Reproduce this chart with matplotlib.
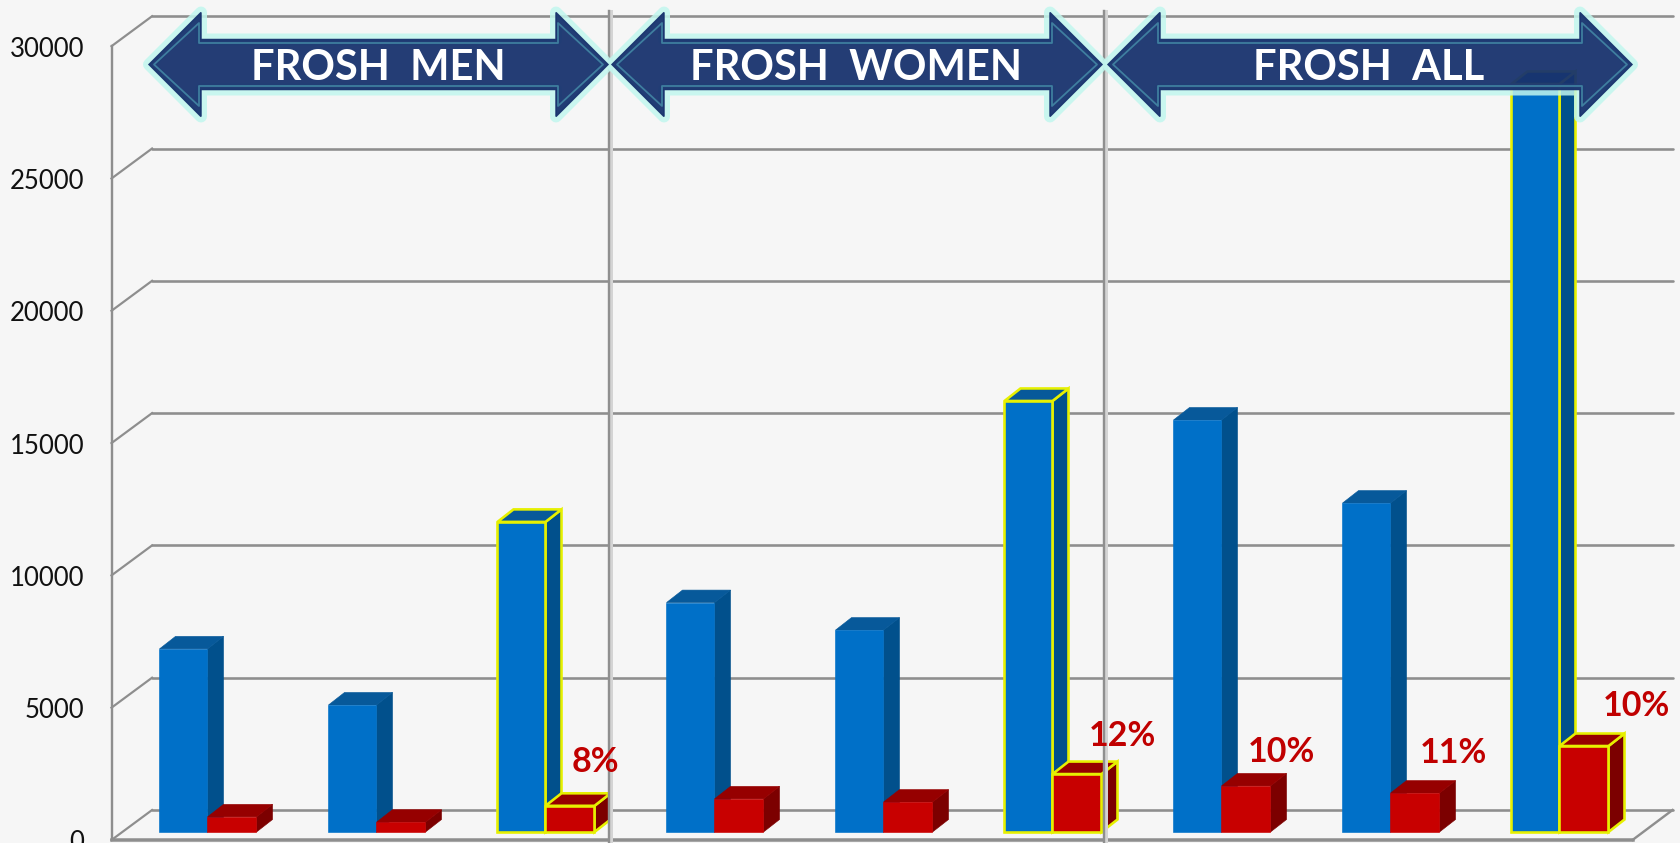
import matplotlib
matplotlib.use("Agg")
import matplotlib.pyplot as plt
from matplotlib.patches import Polygon

# Values per cohort, three groups of three columns each
applicants = [6920, 4800, 11720, 8670, 7630, 16290, 15570, 12430, 28270]
admits = [570, 370, 990, 1250, 1130, 2190, 1740, 1470, 3250]
highlighted = [2, 5, 8]
value_ticks = [0, 5000, 10000, 15000, 20000, 25000, 30000]
pct_labels = ["8%", "12%", "10%", "11%", "10%"]
pct_label_xy = [(595, 762), (1122, 736), (1281, 752), (1453, 753), (1636, 706)]
group_titles = ["FROSH  MEN", "FROSH  WOMEN", "FROSH  ALL"]
group_title_x = [378, 856, 1369]
group_spans = [(149, 608), (612, 1102), (1108, 1632)]
divider_x = [609, 1104]

W, H = 1681, 843
PX_PER_VALUE = 132.3 / 5000
PX_PER_CAT = 169.0
BASE_X, BASE_Y = 207.5, 832.0   # pixel of category 0 boundary, value 0

BG = "#f6f6f6"
GRID = "#8e8e8e"
YELLOW = "#e6f000"
FONT = "Lato"

fig = plt.figure(figsize=(W / 100, H / 100), dpi=100, facecolor=BG)
ax = fig.add_axes([0, 0, 1, 1])
ax.set_xlim(-BASE_X / PX_PER_CAT, (W - BASE_X) / PX_PER_CAT)
ax.set_ylim((BASE_Y - H) / PX_PER_VALUE, BASE_Y / PX_PER_VALUE)
ax.axis("off")

# Overlay in pixel space for the banner arrows and annotations
ann = fig.add_axes([0, 0, 1, 1], zorder=5)
ann.set_xlim(0, W)
ann.set_ylim(H, 0)
ann.axis("off")
ann.patch.set_alpha(0)

px = 0.72  # points per pixel at 100 dpi

# Oblique box walls: offsets of the back wall and the front edge
back_dx, back_dv = -0.328, 831
front_dx, front_dv = -0.568, -302
right_back, right_front = 8.669, 8.432

for v in value_ticks:
    ax.plot([front_dx, back_dx], [v + front_dv, v + back_dv], color=GRID, lw=2.2 * px, zorder=1)
    ax.plot([back_dx, right_back], [v + back_dv, v + back_dv], color=GRID, lw=2.6 * px,
            solid_capstyle="round", zorder=1)
    ann.text(84, BASE_Y - (v + front_dv) * PX_PER_VALUE + 3, str(v), ha="right", va="center",
             fontsize=18.5, family=FONT, color="#111111")

ax.plot([front_dx, front_dx], [front_dv, 30000 + front_dv], color=GRID, lw=2.4 * px, zorder=1)
ax.plot([front_dx, right_front], [front_dv, front_dv], color=GRID, lw=3.5 * px, zorder=1)
ax.plot([right_front, right_back], [front_dv, back_dv], color=GRID, lw=2.4 * px, zorder=1)

# Group dividers with a soft edge on their right side
for x in divider_x:
    ann.plot([x + 2, x + 2], [11, H], color="#d4d4d4", lw=3 * px, zorder=1)
    ann.plot([x, x], [11, H], color="#8f8f8f", lw=2.4 * px, zorder=1.1)


def box(x0, value, width, front, side, top, outlined, z):
    """Draw one oblique column whose front-left base sits at (x0, 0)."""
    dx = 16 / PX_PER_CAT
    dv = 12.5 / PX_PER_VALUE
    x1 = x0 + width
    faces = [
        ([(x1, 0), (x1 + dx, dv), (x1 + dx, value + dv), (x1, value)], side),
        ([(x0, value), (x0 + dx, value + dv), (x1 + dx, value + dv), (x1, value)], top),
        ([(x0, 0), (x1, 0), (x1, value), (x0, value)], front),
    ]
    for pts, colour in faces:
        ax.add_patch(Polygon(pts, closed=True, facecolor=colour,
                             edgecolor=YELLOW if outlined else colour,
                             lw=(2.6 if outlined else 0.6) * px, joinstyle="miter", zorder=z))


col_w = 48 / PX_PER_CAT
for i, (blue, red) in enumerate(zip(applicants, admits)):
    mark = i in highlighted
    box(i - col_w, blue, col_w, "#0070c8", "#01508c", "#07599a", mark, 3 + i * 0.01)
    box(i, red, col_w + 1 / PX_PER_CAT, "#c80000", "#7c0000", "#960000", mark, 3.005 + i * 0.01)

for text, (x, y) in zip(pct_labels, pct_label_xy):
    ann.text(x, y, text, ha="center", va="center", fontsize=24.5, fontweight="bold",
             family=FONT, color="#c00000", zorder=6)


def arrow_outline(x0, x1, cy, shaft, head, head_len):
    return [(x0, cy), (x0 + head_len, cy - head), (x0 + head_len, cy - shaft),
            (x1 - head_len, cy - shaft), (x1 - head_len, cy - head), (x1, cy),
            (x1 - head_len, cy + head), (x1 - head_len, cy + shaft),
            (x0 + head_len, cy + shaft), (x0 + head_len, cy + head)]


# Banner arrows over each group; slightly translucent so the tall column shows through
for (x0, x1), title, tx in zip(group_spans, group_titles, group_title_x):
    outer = arrow_outline(x0, x1, 64.5, 25, 52, 52)
    inner = arrow_outline(x0 + 5, x1 - 5, 64.5, 21.5, 41.5, 45)
    ann.add_patch(Polygon(outer, closed=True, fill=False, edgecolor="#c2f7ee", alpha=0.85,
                          lw=12 * px, joinstyle="round", zorder=2))
    ann.add_patch(Polygon(outer, closed=True, facecolor="#18336e", alpha=0.95,
                          edgecolor="#18336e", lw=1.5 * px, joinstyle="miter", zorder=2.1))
    ann.add_patch(Polygon(inner, closed=True, fill=False, edgecolor="#3f7e9f",
                          lw=1.8 * px, joinstyle="round", zorder=2.2))
    ann.text(tx, 68, title, ha="center", va="center", color="white", fontsize=30,
             fontweight="bold", family=FONT, zorder=2.3)

fig.savefig("out.png", dpi=100, facecolor=BG)
